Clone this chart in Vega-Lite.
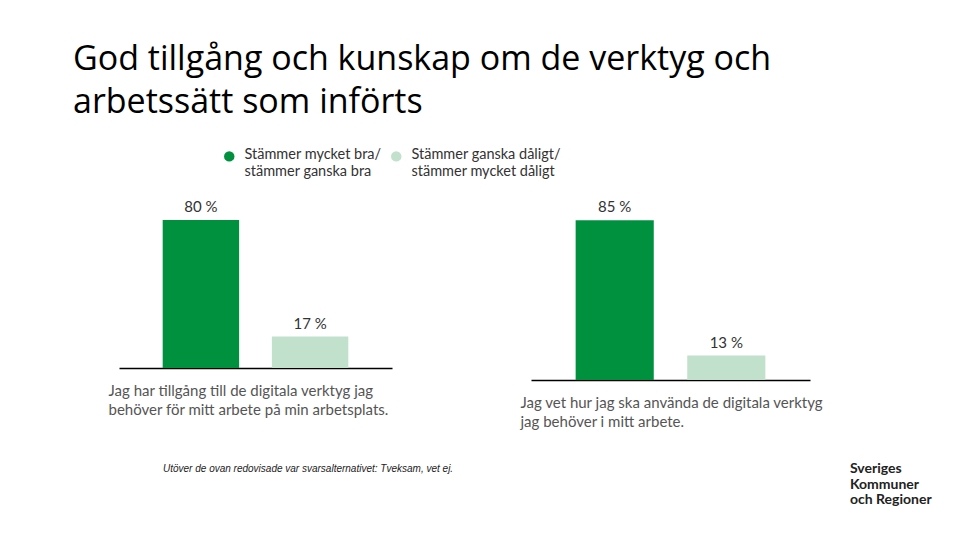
{
  "$schema": "https://vega.github.io/schema/vega-lite/v6.json",
  "background": "white",
  "padding": {"left": 73, "top": 43, "right": 5, "bottom": 5},
  "title": {
    "text": ["God tillgång och kunskap om de verktyg och", "arbetssätt som införts"],
    "anchor": "start",
    "frame": "group",
    "dx": -46,
    "offset": 29,
    "font": "Open Sans",
    "fontSize": 34,
    "fontWeight": "normal",
    "lineHeight": 43,
    "color": "#000000"
  },
  "datasets": {
    "a": [
      {"svar": "Stämmer mycket bra/|stämmer ganska bra", "value": 80, "label": "80 %"},
      {"svar": "Stämmer ganska dåligt/|stämmer mycket dåligt", "value": 17, "label": "17 %"}
    ],
    "b": [
      {"svar": "Stämmer mycket bra/|stämmer ganska bra", "value": 85, "label": "85 %"},
      {"svar": "Stämmer ganska dåligt/|stämmer mycket dåligt", "value": 13, "label": "13 %"}
    ]
  },
  "spacing": 139,
  "bounds": "flush",
  "resolve": {"scale": {"color": "shared"}},
  "hconcat": [
    {
      "width": 273,
      "height": 185,
      "data": {"name": "a"},
      "title": {
        "text": "Utöver de ovan redovisade var svarsalternativet: Tveksam, vet ej.",
        "orient": "bottom",
        "anchor": "start",
        "frame": "group",
        "dx": 44,
        "offset": 47,
        "font": "Liberation Sans",
        "fontSize": 10,
        "fontStyle": "italic",
        "fontWeight": "normal",
        "color": "#222222"
      },
      "encoding": {
        "x": {
          "field": "svar", "type": "nominal", "sort": null,
          "scale": {"paddingInner": 0.3, "paddingOuter": 0.4},
          "axis": {
            "title": ["Jag har tillgång till de digitala verktyg jag", "behöver för mitt arbete på min arbetsplats."],
            "labels": false, "ticks": false,
            "domainColor": "#000000", "domainWidth": 1.5,
            "titleX": -11, "titleY": 15, "titleAlign": "left", "titleBaseline": "top",
            "titleFont": "Lato", "titleFontSize": 15, "titleFontWeight": "normal",
            "titleColor": "#555555", "titleLineHeight": 19
          }
        },
        "y": {"field": "value", "type": "quantitative", "scale": {"domain": [0, 100]}, "axis": null}
      },
      "layer": [
        {
          "mark": {"type": "bar"},
          "encoding": {
            "color": {
              "field": "svar", "type": "nominal", "sort": null,
              "scale": {
                "domain": ["Stämmer mycket bra/|stämmer ganska bra", "Stämmer ganska dåligt/|stämmer mycket dåligt"],
                "range": ["#00913F", "#C1E1CD"]
              },
              "legend": {
                "title": null,
                "orient": "none",
                "legendX": 103,
                "legendY": -34,
                "direction": "horizontal",
                "symbolType": "circle",
                "symbolSize": 110,
                "symbolStrokeWidth": 0,
                "labelFont": "Lato",
                "labelFontSize": 14.5,
                "labelColor": "#333333",
                "labelLimit": 400,
                "labelOffset": 8,
                "columnPadding": 7,
                "labelBaseline": "top",
                "labelExpr": "split(datum.label, '|')",
                "encode": {"labels": {"update": {"lineHeight": {"value": 17}, "dy": {"value": -8}}}}
              }
            }
          }
        },
        {
          "mark": {"type": "text", "baseline": "bottom", "dy": -5, "font": "Lato", "fontSize": 15, "color": "#333333"},
          "encoding": {"text": {"field": "label"}}
        }
      ]
    },
    {
      "width": 279,
      "height": 197,
      "data": {"name": "b"},
      "title": {
        "text": ["Sveriges", "Kommuner", "och Regioner"],
        "orient": "bottom",
        "anchor": "end",
        "frame": "group",
        "align": "left",
        "dx": 40,
        "offset": 33,
        "font": "Lato",
        "fontSize": 14,
        "fontWeight": "bold",
        "lineHeight": 15.5,
        "color": "#222222"
      },
      "encoding": {
        "x": {
          "field": "svar", "type": "nominal", "sort": null,
          "scale": {"paddingInner": 0.3, "paddingOuter": 0.4},
          "axis": {
            "title": ["Jag vet hur jag ska använda de digitala verktyg", "jag behöver i mitt arbete."],
            "labels": false, "ticks": false,
            "domainColor": "#000000", "domainWidth": 1.5,
            "titleX": -11, "titleY": 15, "titleAlign": "left", "titleBaseline": "top",
            "titleFont": "Lato", "titleFontSize": 15, "titleFontWeight": "normal",
            "titleColor": "#555555", "titleLineHeight": 19
          }
        },
        "y": {"field": "value", "type": "quantitative", "scale": {"domain": [0, 104.8]}, "axis": null}
      },
      "layer": [
        {
          "mark": {"type": "bar"},
          "encoding": {
            "color": {"field": "svar", "type": "nominal", "sort": null}
          }
        },
        {
          "mark": {"type": "text", "baseline": "bottom", "dy": -5, "font": "Lato", "fontSize": 15, "color": "#333333"},
          "encoding": {"text": {"field": "label"}}
        }
      ]
    }
  ],
  "config": {
    "view": {"stroke": null},
    "axis": {"grid": false}
  }
}
